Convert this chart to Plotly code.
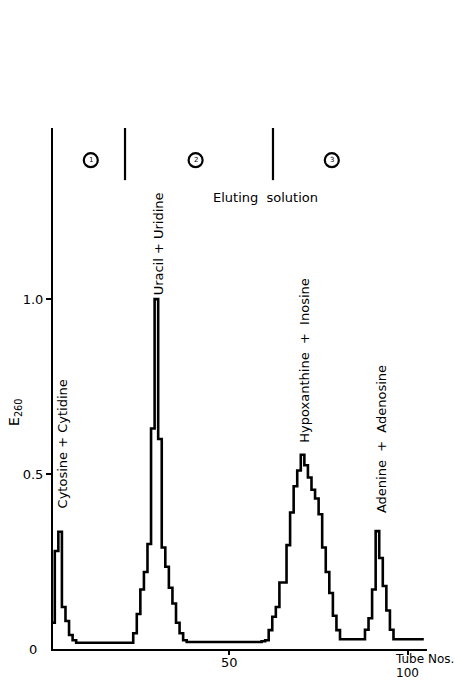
import plotly.graph_objects as go

# ---- data -------------------------------------------------------------
tubes = list(range(1, 106))
e260 = [
    0.075, 0.28, 0.335, 0.12, 0.08, 0.04, 0.025, 0.018, 0.018, 0.018,   # 1-10
    0.018, 0.018, 0.018, 0.018, 0.018, 0.018, 0.018, 0.018, 0.018, 0.018,  # 11-20
    0.018, 0.018, 0.018, 0.045, 0.10, 0.17, 0.22, 0.30, 0.63, 1.0,       # 21-30
    0.60, 0.29, 0.235, 0.175, 0.13, 0.075, 0.045, 0.025, 0.02, 0.02,     # 31-40
    0.02, 0.02, 0.02, 0.02, 0.02, 0.02, 0.02, 0.02, 0.02, 0.02,          # 41-50
    0.02, 0.02, 0.02, 0.02, 0.02, 0.02, 0.02, 0.02, 0.02, 0.022,         # 51-60
    0.025, 0.054, 0.092, 0.12, 0.19, 0.19, 0.297, 0.39, 0.465, 0.51,     # 61-70
    0.555, 0.525, 0.49, 0.455, 0.43, 0.385, 0.29, 0.22, 0.16, 0.095,     # 71-80
    0.054, 0.028, 0.028, 0.028, 0.028, 0.028, 0.028, 0.028, 0.055, 0.088,  # 81-90
    0.17, 0.337, 0.26, 0.18, 0.11, 0.055, 0.028, 0.028, 0.028, 0.028,    # 91-100
    0.028, 0.028, 0.028, 0.028, 0.028,                                   # 101-105
]
peak_labels = ["Cytosine + Cytidine", "Uracil + Uridine",
               "Hypoxanthine\u00a0\u00a0+\u00a0\u00a0Inosine",
               "Adenine\u00a0\u00a0+\u00a0\u00a0Adenosine"]
solution_changes = [20.7, 62.2]          # tube positions where eluting solution changes
solution_names = ["1", "2", "3"]
x_ticks = [50, 100]
x_ticktext = ["50", "100"]
y_ticks = [0.5, 1.0]
y_ticktext = ["0.5", "1.0"]

# tube n occupies the interval [n-1, n]
x_pos = [t - 0.5 for t in tubes]

FONT = "DejaVu Sans"

fig = go.Figure()
fig.add_trace(go.Scatter(
    x=x_pos, y=e260, mode="lines", line_shape="hvh",
    line=dict(color="black", width=2.6), showlegend=False, hoverinfo="skip"))

shapes = []
for xc in solution_changes:
    shapes.append(dict(type="line", xref="x", yref="y", x0=xc, x1=xc, y0=1.489, y1=1.34,
                       line=dict(color="black", width=2.2)))
circle_x = [11.1, 40.5, 78.7]
annotations = []
for name, cx in zip(solution_names, circle_x):
    shapes.append(dict(type="circle", xref="x", yref="y", xsizemode="pixel", ysizemode="pixel",
                       xanchor=cx, yanchor=1.397, x0=-7, x1=7, y0=-7, y1=7,
                       line=dict(color="black", width=2.2)))
    annotations.append(dict(x=cx, y=1.397, xref="x", yref="y", text=name, showarrow=False,
                            font=dict(family=FONT, size=7, color="black"),
                            xanchor="center", yanchor="middle"))

label_pos = [(3.16, 0.586), (30.2, 1.159), (70.8, 0.823), (92.5, 0.60)]
for txt, (lx, ly) in zip(peak_labels, label_pos):
    annotations.append(dict(x=lx, y=ly, xref="x", yref="y", text=txt, textangle=-90,
                            showarrow=False, font=dict(family=FONT, size=13, color="black"),
                            xanchor="center", yanchor="middle"))

# x tick labels ("100" sits below the axis caption, as in the original)
tick_label_y = [-0.025, -0.047]
tick_label_size = [13, 12]
for tv, tt, ty, ts in zip(x_ticks, x_ticktext, tick_label_y, tick_label_size):
    annotations.append(dict(x=tv, y=ty, xref="x", yref="paper", text=tt, showarrow=False,
                            font=dict(family=FONT, size=ts, color="black"),
                            xanchor="center", yanchor="middle"))

annotations += [
    dict(x=60.2, y=1.289, xref="x", yref="y", text="Eluting\u00a0\u00a0solution", showarrow=False,
         font=dict(family=FONT, size=13, color="black"), xanchor="center", yanchor="middle"),
    dict(x=-0.102, y=0.677, xref="paper", yref="y", text="E<sub>260</sub>", textangle=-90,
         showarrow=False, font=dict(family=FONT, size=14, color="black"),
         xanchor="center", yanchor="middle"),
    dict(x=-0.054, y=0, xref="paper", yref="y", text="0", showarrow=False,
         font=dict(family=FONT, size=13, color="black"), xanchor="center", yanchor="middle"),
    dict(x=104.6, y=-0.019, xref="x", yref="paper", text="Tube Nos.", showarrow=False,
         font=dict(family=FONT, size=12, color="black"), xanchor="center", yanchor="middle"),
]

fig.update_layout(
    width=455, height=681,
    margin=dict(l=53, r=28, t=128, b=32),
    paper_bgcolor="white", plot_bgcolor="white",
    font=dict(family=FONT, size=13, color="black"),
    shapes=shapes, annotations=annotations,
    xaxis=dict(range=[0.5, 105.4], showgrid=False, zeroline=False, showline=True,
               linecolor="black", linewidth=2, ticks="outside", ticklen=4, tickwidth=1.5,
               tickcolor="black", tickvals=x_ticks, showticklabels=False),
    yaxis=dict(range=[0, 1.489], showgrid=False, zeroline=False, showline=True,
               linecolor="black", linewidth=2, ticks="outside", ticklen=5, tickwidth=1.5,
               tickcolor="black", tickvals=y_ticks, ticktext=y_ticktext,
               tickfont=dict(family=FONT, size=13, color="black")),
)

fig.write_html("out.html")
